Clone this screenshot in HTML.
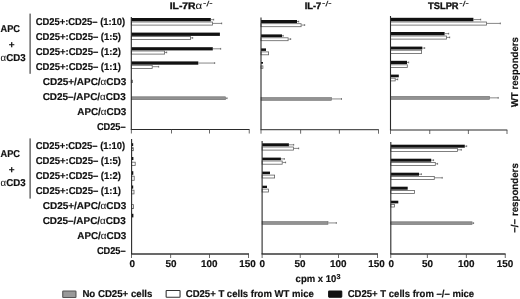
<!DOCTYPE html><html><head><meta charset="utf-8"><title>figure</title>
<style>html,body{margin:0;padding:0;background:#fff}svg{display:block}text{text-rendering:geometricPrecision;font-family:"Liberation Sans", Arial, Helvetica, sans-serif;fill:#111;stroke:#111;stroke-width:0.18px}</style>
</head><body>
<svg width="520" height="299" viewBox="0 0 520 299">
<rect width="520" height="299" fill="#fff"/>
<text x="169.7" y="9.3" font-size="9.6" font-weight="bold"><tspan textLength="25.9" lengthAdjust="spacingAndGlyphs" stroke="#111" stroke-width="0.35">IL-7R</tspan><tspan font-weight="normal" font-size="10" stroke-width="0.05" textLength="6.7" lengthAdjust="spacingAndGlyphs">α</tspan><tspan dx="0.7" dy="-3.3" font-size="9.9" font-weight="normal" stroke="#111" stroke-width="0.2">-</tspan><tspan dx="0.45" font-size="7" font-style="italic" stroke="#111" stroke-width="0.15">/</tspan><tspan dx="0.45" font-size="9.9" font-weight="normal" stroke="#111" stroke-width="0.2">-</tspan></text>
<text x="304.7" y="9.3" font-size="9.6" font-weight="bold"><tspan textLength="16.6" lengthAdjust="spacingAndGlyphs" stroke="#111" stroke-width="0.35">IL-7</tspan><tspan dx="0.7" dy="-3.3" font-size="9.9" font-weight="normal" stroke="#111" stroke-width="0.2">-</tspan><tspan dx="0.45" font-size="7" font-style="italic" stroke="#111" stroke-width="0.15">/</tspan><tspan dx="0.45" font-size="9.9" font-weight="normal" stroke="#111" stroke-width="0.2">-</tspan></text>
<text x="428.1" y="9.3" font-size="9.6" font-weight="bold"><tspan textLength="30.5" lengthAdjust="spacingAndGlyphs" stroke="#111" stroke-width="0.35">TSLPR</tspan><tspan dx="0.7" dy="-3.3" font-size="9.9" font-weight="normal" stroke="#111" stroke-width="0.2">-</tspan><tspan dx="0.45" font-size="7" font-style="italic" stroke="#111" stroke-width="0.15">/</tspan><tspan dx="0.45" font-size="9.9" font-weight="normal" stroke="#111" stroke-width="0.2">-</tspan></text>
<text x="35.7" y="24.5" font-size="9.9" font-weight="bold" text-anchor="start"  textLength="89.5" lengthAdjust="spacingAndGlyphs">CD25+:CD25– (1:10)</text>
<text x="35.7" y="39.5" font-size="9.9" font-weight="bold" text-anchor="start"  textLength="85.2" lengthAdjust="spacingAndGlyphs">CD25+:CD25– (1:5)</text>
<text x="35.7" y="54.5" font-size="9.9" font-weight="bold" text-anchor="start"  textLength="85.2" lengthAdjust="spacingAndGlyphs">CD25+:CD25– (1:2)</text>
<text x="35.7" y="69.5" font-size="9.9" font-weight="bold" text-anchor="start"  textLength="85.2" lengthAdjust="spacingAndGlyphs">CD25+:CD25– (1:1)</text>
<text x="42.8" y="84.5" font-size="9.9" font-weight="bold" text-anchor="start"  textLength="83.5" lengthAdjust="spacingAndGlyphs">CD25+/APC/<tspan font-weight="normal" stroke-width="0.05">α</tspan>CD3</text>
<text x="42.7" y="99.5" font-size="9.9" font-weight="bold" text-anchor="start"  textLength="83.0" lengthAdjust="spacingAndGlyphs">CD25–/APC/<tspan font-weight="normal" stroke-width="0.05">α</tspan>CD3</text>
<text x="77.3" y="114.5" font-size="9.9" font-weight="bold" text-anchor="start"  textLength="49.0" lengthAdjust="spacingAndGlyphs">APC/<tspan font-weight="normal" stroke-width="0.05">α</tspan>CD3</text>
<text x="96.9" y="129.5" font-size="9.9" font-weight="bold" text-anchor="start"  textLength="28.7" lengthAdjust="spacingAndGlyphs">CD25–</text>
<text x="35.7" y="149.3" font-size="9.9" font-weight="bold" text-anchor="start"  textLength="89.5" lengthAdjust="spacingAndGlyphs">CD25+:CD25– (1:10)</text>
<text x="35.7" y="164.3" font-size="9.9" font-weight="bold" text-anchor="start"  textLength="85.2" lengthAdjust="spacingAndGlyphs">CD25+:CD25– (1:5)</text>
<text x="35.7" y="179.3" font-size="9.9" font-weight="bold" text-anchor="start"  textLength="85.2" lengthAdjust="spacingAndGlyphs">CD25+:CD25– (1:2)</text>
<text x="35.7" y="194.3" font-size="9.9" font-weight="bold" text-anchor="start"  textLength="85.2" lengthAdjust="spacingAndGlyphs">CD25+:CD25– (1:1)</text>
<text x="42.8" y="209.3" font-size="9.9" font-weight="bold" text-anchor="start"  textLength="83.5" lengthAdjust="spacingAndGlyphs">CD25+/APC/<tspan font-weight="normal" stroke-width="0.05">α</tspan>CD3</text>
<text x="42.7" y="224.3" font-size="9.9" font-weight="bold" text-anchor="start"  textLength="83.0" lengthAdjust="spacingAndGlyphs">CD25–/APC/<tspan font-weight="normal" stroke-width="0.05">α</tspan>CD3</text>
<text x="77.3" y="239.3" font-size="9.9" font-weight="bold" text-anchor="start"  textLength="49.0" lengthAdjust="spacingAndGlyphs">APC/<tspan font-weight="normal" stroke-width="0.05">α</tspan>CD3</text>
<text x="96.9" y="254.3" font-size="9.9" font-weight="bold" text-anchor="start"  textLength="28.7" lengthAdjust="spacingAndGlyphs">CD25–</text>
<text x="0.6" y="32.4" font-size="9.9" font-weight="bold" text-anchor="start"  textLength="19.4" lengthAdjust="spacingAndGlyphs">APC</text>
<text x="11.7" y="47.8" font-size="9.9" font-weight="bold" text-anchor="middle" >+</text>
<text x="0.6" y="61.3" font-size="9.9" font-weight="bold" text-anchor="start"  textLength="25" lengthAdjust="spacingAndGlyphs"><tspan font-weight="normal" stroke-width="0.05">α</tspan>CD3</text>
<text x="0.6" y="157.2" font-size="9.9" font-weight="bold" text-anchor="start"  textLength="19.4" lengthAdjust="spacingAndGlyphs">APC</text>
<text x="11.7" y="172.6" font-size="9.9" font-weight="bold" text-anchor="middle" >+</text>
<text x="0.6" y="186.1" font-size="9.9" font-weight="bold" text-anchor="start"  textLength="25" lengthAdjust="spacingAndGlyphs"><tspan font-weight="normal" stroke-width="0.05">α</tspan>CD3</text>
<rect x="29.5" y="13.6" width="1.2" height="60.2" fill="#444"/>
<rect x="29.5" y="138.4" width="1.2" height="60.2" fill="#444"/>
<text transform="translate(518.0,107.3) rotate(-90)" font-size="9.9" font-weight="bold" textLength="70.3" lengthAdjust="spacingAndGlyphs">WT responders</text>
<text transform="translate(518.0,232.8) rotate(-90)" font-size="9.9" font-weight="bold" textLength="69.6" lengthAdjust="spacingAndGlyphs">−/− responders</text>
<rect x="131.3" y="18.00" width="79.50" height="3.30" fill="#111"/>
<path d="M210.8 19.65H214M213.7 18.75V20.55" stroke="#555" stroke-width="0.7" fill="none"/>
<rect x="131.3" y="22.00" width="81.10" height="3.10" fill="#fff" stroke="#606060" stroke-width="0.8"/>
<path d="M212.8 23.40H222M221.7 22.50V24.30" stroke="#555" stroke-width="0.7" fill="none"/>
<rect x="131.3" y="32.60" width="88.60" height="3.30" fill="#111"/>
<rect x="131.3" y="36.50" width="59.10" height="3.10" fill="#fff" stroke="#606060" stroke-width="0.8"/>
<path d="M190.8 37.90H193M192.7 37.00V38.80" stroke="#555" stroke-width="0.7" fill="none"/>
<rect x="131.3" y="47.20" width="81.50" height="3.20" fill="#111"/>
<path d="M212.8 48.80H221M220.7 47.90V49.70" stroke="#555" stroke-width="0.7" fill="none"/>
<rect x="131.3" y="51.00" width="33.30" height="3.10" fill="#fff" stroke="#606060" stroke-width="0.8"/>
<path d="M165 52.40H167M166.7 51.50V53.30" stroke="#555" stroke-width="0.7" fill="none"/>
<rect x="131.3" y="61.40" width="67.00" height="3.30" fill="#111"/>
<path d="M198.3 63.05H215M214.7 62.15V63.95" stroke="#555" stroke-width="0.7" fill="none"/>
<rect x="131.3" y="65.30" width="20.90" height="3.10" fill="#fff" stroke="#606060" stroke-width="0.8"/>
<path d="M152.6 66.70H159M158.7 65.80V67.60" stroke="#555" stroke-width="0.7" fill="none"/>
<rect x="131.3" y="80.20" width="1.10" height="2.40" fill="#fff" stroke="#606060" stroke-width="0.8"/>
<rect x="131.3" y="96.80" width="94.20" height="2.90" fill="#929292" stroke="#6a6a6a" stroke-width="0.6"/>
<path d="M225.8 98.25H227.3M227.0 97.35V99.15" stroke="#555" stroke-width="0.7" fill="none"/>
<rect x="130.75" y="17.0" width="1.1" height="112.5" fill="#2a2a2a"/>
<rect x="130.75" y="129.00" width="118.75" height="1.0" fill="#2a2a2a"/>
<rect x="130.90" y="129.5" width="0.8" height="4" fill="#444"/>
<rect x="171.00" y="129.5" width="0.8" height="4" fill="#444"/>
<rect x="209.20" y="129.5" width="0.8" height="4" fill="#444"/>
<rect x="248.80" y="129.5" width="0.8" height="4" fill="#444"/>
<rect x="261" y="20.00" width="36.00" height="3.10" fill="#111"/>
<path d="M297 21.55H299M298.7 20.65V22.45" stroke="#555" stroke-width="0.7" fill="none"/>
<rect x="261" y="23.70" width="40.10" height="3.00" fill="#fff" stroke="#606060" stroke-width="0.8"/>
<path d="M301.5 25.05H305M304.7 24.15V25.95" stroke="#555" stroke-width="0.7" fill="none"/>
<rect x="261" y="34.40" width="21.00" height="2.80" fill="#111"/>
<path d="M282 35.80H283.5M283.2 34.90V36.70" stroke="#555" stroke-width="0.7" fill="none"/>
<rect x="261" y="37.80" width="27.10" height="2.90" fill="#fff" stroke="#606060" stroke-width="0.8"/>
<path d="M288.5 39.10H291M290.7 38.20V40.00" stroke="#555" stroke-width="0.7" fill="none"/>
<rect x="261" y="48.40" width="5.00" height="2.50" fill="#111"/>
<rect x="261" y="51.90" width="7.60" height="2.90" fill="#fff" stroke="#606060" stroke-width="0.8"/>
<rect x="261" y="62.00" width="2.00" height="1.70" fill="#111"/>
<rect x="261" y="65.90" width="1.90" height="2.40" fill="#fff" stroke="#606060" stroke-width="0.8"/>
<rect x="261" y="97.60" width="70.50" height="2.70" fill="#929292" stroke="#6a6a6a" stroke-width="0.6"/>
<path d="M331.8 98.95H341.8M341.5 98.05V99.85" stroke="#555" stroke-width="0.7" fill="none"/>
<rect x="260.45" y="17.5" width="1.1" height="112.19999999999999" fill="#2a2a2a"/>
<rect x="260.45" y="129.20" width="118.35" height="1.0" fill="#2a2a2a"/>
<rect x="260.60" y="129.7" width="0.8" height="4" fill="#444"/>
<rect x="300.30" y="129.7" width="0.8" height="4" fill="#444"/>
<rect x="338.90" y="129.7" width="0.8" height="4" fill="#444"/>
<rect x="378.10" y="129.7" width="0.8" height="4" fill="#444"/>
<rect x="390.5" y="17.80" width="82.90" height="3.50" fill="#111"/>
<path d="M473.4 19.55H481M480.7 18.65V20.45" stroke="#555" stroke-width="0.7" fill="none"/>
<rect x="390.5" y="22.00" width="96.00" height="3.10" fill="#fff" stroke="#606060" stroke-width="0.8"/>
<path d="M486.9 23.40H500.6M500.3 22.50V24.30" stroke="#555" stroke-width="0.7" fill="none"/>
<rect x="390.5" y="32.00" width="54.10" height="3.30" fill="#111"/>
<path d="M444.6 33.65H449M448.7 32.75V34.55" stroke="#555" stroke-width="0.7" fill="none"/>
<rect x="390.5" y="36.00" width="55.90" height="3.10" fill="#fff" stroke="#606060" stroke-width="0.8"/>
<path d="M446.8 37.40H450M449.7 36.50V38.30" stroke="#555" stroke-width="0.7" fill="none"/>
<rect x="390.5" y="46.60" width="31.80" height="2.90" fill="#111"/>
<path d="M422.3 48.05H425M424.7 47.15V48.95" stroke="#555" stroke-width="0.7" fill="none"/>
<rect x="390.5" y="50.20" width="31.10" height="3.20" fill="#fff" stroke="#606060" stroke-width="0.8"/>
<rect x="390.5" y="60.80" width="16.50" height="3.20" fill="#111"/>
<path d="M407 62.40H409M408.7 61.50V63.30" stroke="#555" stroke-width="0.7" fill="none"/>
<rect x="390.5" y="64.80" width="16.80" height="2.60" fill="#fff" stroke="#606060" stroke-width="0.8"/>
<rect x="390.5" y="74.60" width="8.30" height="2.70" fill="#111"/>
<rect x="390.5" y="78.20" width="4.70" height="2.70" fill="#fff" stroke="#606060" stroke-width="0.8"/>
<path d="M395.6 79.40H398M397.7 78.50V80.30" stroke="#555" stroke-width="0.7" fill="none"/>
<rect x="390.5" y="96.40" width="99.10" height="2.90" fill="#929292" stroke="#6a6a6a" stroke-width="0.6"/>
<path d="M489.9 97.85H498.5M498.2 96.95V98.75" stroke="#555" stroke-width="0.7" fill="none"/>
<rect x="389.95" y="16.0" width="1.1" height="114.0" fill="#2a2a2a"/>
<rect x="389.95" y="129.50" width="117.35" height="1.0" fill="#2a2a2a"/>
<rect x="390.10" y="130.0" width="0.8" height="4" fill="#444"/>
<rect x="429.40" y="130.0" width="0.8" height="4" fill="#444"/>
<rect x="467.90" y="130.0" width="0.8" height="4" fill="#444"/>
<rect x="506.60" y="130.0" width="0.8" height="4" fill="#444"/>
<rect x="131.6" y="143.20" width="1.60" height="2.80" fill="#111"/>
<rect x="131.6" y="147.70" width="1.70" height="3.00" fill="#fff" stroke="#606060" stroke-width="0.8"/>
<rect x="131.6" y="157.00" width="1.80" height="3.00" fill="#111"/>
<rect x="131.6" y="162.20" width="3.60" height="3.40" fill="#fff" stroke="#606060" stroke-width="0.8"/>
<rect x="131.6" y="171.20" width="1.70" height="3.60" fill="#111"/>
<rect x="131.6" y="176.20" width="2.60" height="4.10" fill="#fff" stroke="#606060" stroke-width="0.8"/>
<rect x="131.6" y="185.50" width="1.60" height="3.10" fill="#111"/>
<rect x="131.6" y="190.20" width="2.40" height="3.70" fill="#fff" stroke="#606060" stroke-width="0.8"/>
<rect x="131.6" y="204.60" width="1.80" height="4.00" fill="#fff" stroke="#606060" stroke-width="0.8"/>
<rect x="131.6" y="213.80" width="1.80" height="3.60" fill="#111"/>
<rect x="131.05" y="139.0" width="1.1" height="115.0" fill="#2a2a2a"/>
<rect x="131.05" y="253.30" width="117.95" height="1.4" fill="#2a2a2a"/>
<rect x="131.20" y="254.0" width="0.8" height="4" fill="#444"/>
<rect x="170.30" y="254.0" width="0.8" height="4" fill="#444"/>
<rect x="209.00" y="254.0" width="0.8" height="4" fill="#444"/>
<rect x="248.10" y="254.0" width="0.8" height="4" fill="#444"/>
<rect x="262.1" y="143.30" width="26.80" height="3.00" fill="#111"/>
<path d="M288.9 144.80H294M293.7 143.90V145.70" stroke="#555" stroke-width="0.7" fill="none"/>
<rect x="262.1" y="147.00" width="31.40" height="3.10" fill="#fff" stroke="#606060" stroke-width="0.8"/>
<path d="M293.9 148.40H299M298.7 147.50V149.30" stroke="#555" stroke-width="0.7" fill="none"/>
<rect x="262.1" y="157.60" width="18.80" height="2.60" fill="#111"/>
<path d="M280.9 158.90H284.6M284.3 158.00V159.80" stroke="#555" stroke-width="0.7" fill="none"/>
<rect x="262.1" y="161.00" width="20.10" height="3.20" fill="#fff" stroke="#606060" stroke-width="0.8"/>
<path d="M282.6 162.45H285.9M285.59999999999997 161.55V163.35" stroke="#555" stroke-width="0.7" fill="none"/>
<rect x="262.1" y="171.60" width="7.90" height="2.60" fill="#111"/>
<rect x="262.1" y="175.10" width="12.50" height="2.90" fill="#fff" stroke="#606060" stroke-width="0.8"/>
<rect x="262.1" y="185.70" width="4.90" height="2.30" fill="#111"/>
<rect x="262.1" y="189.10" width="6.30" height="2.90" fill="#fff" stroke="#606060" stroke-width="0.8"/>
<rect x="262.1" y="221.60" width="65.90" height="2.70" fill="#929292" stroke="#6a6a6a" stroke-width="0.6"/>
<path d="M328.3 222.95H336.6M336.3 222.05V223.85" stroke="#555" stroke-width="0.7" fill="none"/>
<rect x="261.55" y="141.0" width="1.1" height="113.0" fill="#2a2a2a"/>
<rect x="261.55" y="253.30" width="116.45" height="1.4" fill="#2a2a2a"/>
<rect x="261.70" y="254.0" width="0.8" height="4" fill="#444"/>
<rect x="299.80" y="254.0" width="0.8" height="4" fill="#444"/>
<rect x="338.10" y="254.0" width="0.8" height="4" fill="#444"/>
<rect x="377.10" y="254.0" width="0.8" height="4" fill="#444"/>
<rect x="390.8" y="144.70" width="74.00" height="3.00" fill="#111"/>
<path d="M464.8 146.20H467M466.7 145.30V147.10" stroke="#555" stroke-width="0.7" fill="none"/>
<rect x="390.8" y="148.40" width="66.80" height="3.10" fill="#fff" stroke="#606060" stroke-width="0.8"/>
<path d="M458 149.80H461.6M461.3 148.90V150.70" stroke="#555" stroke-width="0.7" fill="none"/>
<rect x="390.8" y="158.70" width="40.40" height="3.00" fill="#111"/>
<path d="M431.2 160.20H433.9M433.59999999999997 159.30V161.10" stroke="#555" stroke-width="0.7" fill="none"/>
<rect x="390.8" y="162.40" width="44.50" height="3.10" fill="#fff" stroke="#606060" stroke-width="0.8"/>
<path d="M435.7 163.80H437.9M437.59999999999997 162.90V164.70" stroke="#555" stroke-width="0.7" fill="none"/>
<rect x="390.8" y="172.70" width="28.20" height="3.00" fill="#111"/>
<path d="M419 174.20H421.7M421.4 173.30V175.10" stroke="#555" stroke-width="0.7" fill="none"/>
<rect x="390.8" y="176.40" width="43.50" height="3.10" fill="#fff" stroke="#606060" stroke-width="0.8"/>
<path d="M434.7 177.80H442.5M442.2 176.90V178.70" stroke="#555" stroke-width="0.7" fill="none"/>
<rect x="390.8" y="186.70" width="16.90" height="3.00" fill="#111"/>
<rect x="390.8" y="190.40" width="23.80" height="3.10" fill="#fff" stroke="#606060" stroke-width="0.8"/>
<rect x="390.8" y="200.70" width="7.50" height="2.70" fill="#111"/>
<rect x="390.8" y="204.40" width="3.60" height="2.60" fill="#fff" stroke="#606060" stroke-width="0.8"/>
<rect x="390.8" y="221.80" width="81.30" height="2.70" fill="#929292" stroke="#6a6a6a" stroke-width="0.6"/>
<path d="M472.4 223.15H473.9M473.59999999999997 222.25V224.05" stroke="#555" stroke-width="0.7" fill="none"/>
<rect x="390.25" y="142.0" width="1.1" height="112.0" fill="#2a2a2a"/>
<rect x="390.25" y="253.30" width="115.35" height="1.4" fill="#2a2a2a"/>
<rect x="390.40" y="254.0" width="0.8" height="4" fill="#444"/>
<rect x="426.90" y="254.0" width="0.8" height="4" fill="#444"/>
<rect x="465.90" y="254.0" width="0.8" height="4" fill="#444"/>
<rect x="504.80" y="254.0" width="0.8" height="4" fill="#444"/>
<text x="132.2" y="267" font-size="9.9" font-weight="bold" text-anchor="middle" >0</text>
<text x="171" y="267" font-size="9.9" font-weight="bold" text-anchor="middle" >50</text>
<text x="209.2" y="267" font-size="9.9" font-weight="bold" text-anchor="middle" >100</text>
<text x="247.5" y="267" font-size="9.9" font-weight="bold" text-anchor="middle" >150</text>
<text x="262.2" y="267" font-size="9.9" font-weight="bold" text-anchor="middle" >0</text>
<text x="300" y="267" font-size="9.9" font-weight="bold" text-anchor="middle" >50</text>
<text x="338.3" y="267" font-size="9.9" font-weight="bold" text-anchor="middle" >100</text>
<text x="376.5" y="267" font-size="9.9" font-weight="bold" text-anchor="middle" >150</text>
<text x="391.2" y="267" font-size="9.9" font-weight="bold" text-anchor="middle" >0</text>
<text x="427.5" y="267" font-size="9.9" font-weight="bold" text-anchor="middle" >50</text>
<text x="466.3" y="267" font-size="9.9" font-weight="bold" text-anchor="middle" >100</text>
<text x="505" y="267" font-size="9.9" font-weight="bold" text-anchor="middle" >150</text>
<text x="295.6" y="282.2" font-size="9.9" font-weight="bold"><tspan textLength="40.7" lengthAdjust="spacingAndGlyphs">cpm x 10</tspan><tspan dx="0.2" dy="-3.7" font-size="7.2">3</tspan></text>
<rect x="62.75" y="290.95" width="13.20" height="6.60" rx="0.6" fill="#999" stroke="#555" stroke-width="1.1"/>
<text x="82.4" y="297.4" font-size="9.9" font-weight="bold" text-anchor="start"  textLength="70" lengthAdjust="spacingAndGlyphs">No CD25+ cells</text>
<rect x="166.15" y="290.45" width="13.90" height="6.80" rx="0.6" fill="#fff" stroke="#333" stroke-width="1.1"/>
<text x="185.8" y="297.4" font-size="9.9" font-weight="bold" text-anchor="start"  textLength="128" lengthAdjust="spacingAndGlyphs">CD25+ T cells from WT mice</text>
<rect x="328.65" y="291.05" width="13.10" height="6.10" rx="0.6" fill="#111" stroke="#111" stroke-width="1.1"/>
<text x="347.7" y="297.4" font-size="9.9" font-weight="bold" text-anchor="start"  textLength="126.5" lengthAdjust="spacingAndGlyphs">CD25+ T cells from –/– mice</text>
</svg></body></html>
